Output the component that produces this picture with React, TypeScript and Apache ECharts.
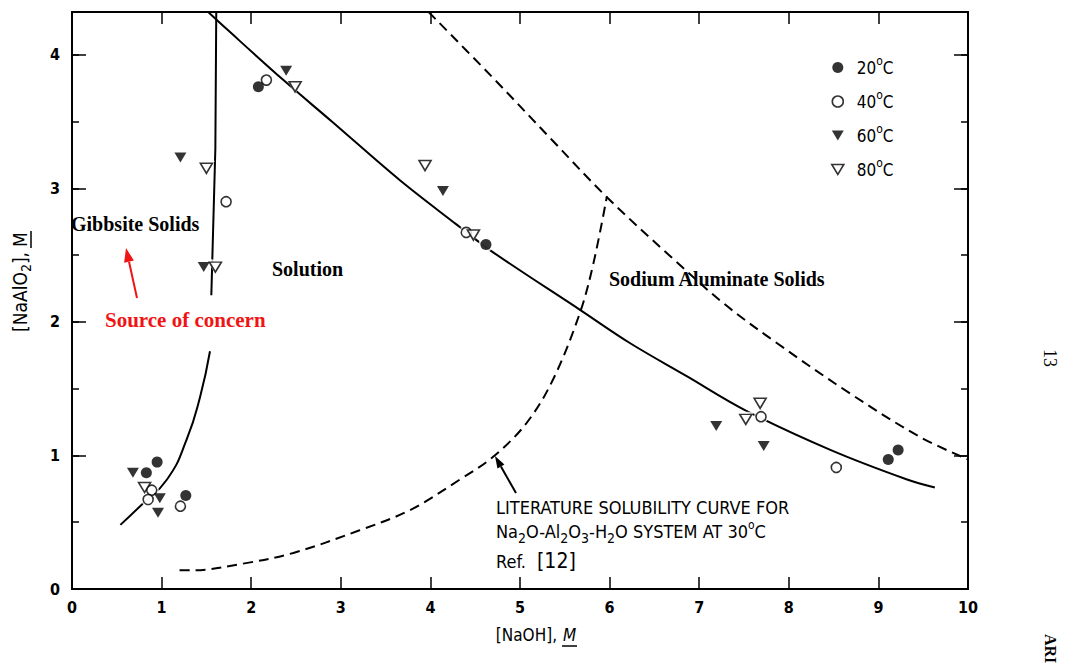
import React, { useEffect, useRef } from "react";
import * as echarts from "echarts";

// ---- axis ranges / tick labels ----
const xMin = 0;
const xMax = 10;
const yMin = 0;
const yMax = 4.32;

// ---- measured points [NaOH, NaAlO2] ----
const t20 = [
  [0.95, 0.95], [0.83, 0.87], [1.27, 0.7], [2.08, 3.76], [4.62, 2.58], [9.11, 0.97], [9.22, 1.04],
];
const t40 = [
  [0.89, 0.74], [0.85, 0.67], [1.21, 0.62], [1.72, 2.9], [2.17, 3.81], [4.4, 2.67], [7.69, 1.29], [8.53, 0.91],
];
const t60 = [
  [0.68, 0.87], [0.98, 0.68], [0.96, 0.57], [1.21, 3.23], [1.47, 2.41], [2.39, 3.88], [4.14, 2.98], [7.19, 1.22], [7.72, 1.07],
];
const t80 = [
  [0.81, 0.76], [1.5, 3.15], [1.6, 2.41], [2.49, 3.76], [3.94, 3.17], [4.48, 2.65], [7.52, 1.27], [7.68, 1.39],
];

// ---- curves ----
const solutionCurve = [
  [1.52, 4.32], [1.73, 4.19], [2.36, 3.81], [2.9, 3.5], [3.66, 3.06], [4.29, 2.73], [4.68, 2.53],
  [5.67, 2.09], [6.23, 1.84], [6.87, 1.59], [7.51, 1.34], [8.47, 1.04], [9.32, 0.82], [9.63, 0.76],
];
const aluminateBoundary = [
  [3.98, 4.32], [4.68, 3.84], [5.36, 3.36], [5.96, 2.94], [6.68, 2.49], [7.27, 2.14], [7.87, 1.84],
  [8.67, 1.47], [9.46, 1.14], [10, 0.97],
];
const literatureCurve = [
  [1.2, 0.14], [1.35, 0.14], [1.91, 0.19], [2.47, 0.27], [3.21, 0.44], [3.77, 0.59], [4.33, 0.82],
  [4.7, 0.99], [5.07, 1.24], [5.37, 1.57], [5.67, 2.07], [5.82, 2.44], [5.97, 2.94],
];
const gibbsiteVertical = [
  [1.61, 4.32], [1.6, 3.3], [1.555, 2.2],
];
const gibbsiteCurve = [
  [1.54, 1.78], [1.43, 1.44], [1.28, 1.12], [1.06, 0.82], [0.76, 0.62], [0.54, 0.48],
];

const legendNames = ["20°C", "40°C", "60°C", "80°C"];

const SANS = "'DejaVu Sans Condensed', 'DejaVu Sans', sans-serif";
const SERIF = "'Liberation Serif', 'DejaVu Serif', serif";
const TRI = "path://M0,0L12,0L6,10Z";

function textEl(text: string, x: number, y: number, font: string, fill = "#000", align = "left", extra: any = {}) {
  return {
    type: "text",
    x,
    y,
    z: 100,
    ...extra,
    style: {
      text,
      font,
      fill,
      align,
      verticalAlign: "middle",
      textAlign: align,
      textVerticalAlign: "middle",
      ...(extra.style || {}),
    },
  };
}

function arrow(tail: number[], tip: number[], headLen: number, halfW: number, color: string, width: number) {
  const dx = tip[0] - tail[0];
  const dy = tip[1] - tail[1];
  const len = Math.hypot(dx, dy);
  const ux = dx / len;
  const uy = dy / len;
  const bx = tip[0] - ux * headLen;
  const by = tip[1] - uy * headLen;
  const nx = -uy;
  const ny = ux;
  return [
    {
      type: "line",
      z: 100,
      shape: { x1: tail[0], y1: tail[1], x2: bx, y2: by },
      style: { stroke: color, lineWidth: width },
    },
    {
      type: "polygon",
      z: 100,
      shape: {
        points: [
          [tip[0], tip[1]],
          [bx + nx * halfW, by + ny * halfW],
          [bx - nx * halfW, by - ny * halfW],
        ],
      },
      style: { fill: color },
    },
  ];
}

export default function App() {
  const ref = useRef<HTMLDivElement>(null);

  useEffect(() => {
    if (!ref.current) return;
    const chart = echarts.init(ref.current, undefined, { renderer: "svg" });

    const axisLine = { show: true, onZero: false, lineStyle: { color: "#000", width: 2 } };
    const tick = (len: number) => ({
      show: true,
      inside: true,
      length: len,
      lineStyle: { color: "#000", width: 1.5 },
    });
    const labelStyle = { color: "#000", fontFamily: SANS, fontSize: 16, fontWeight: "bold" as const };

    const xBase = { type: "value", min: xMin, max: xMax, interval: 1, splitLine: { show: false }, axisLine };
    const yBase = { type: "value", min: yMin, max: yMax, splitLine: { show: false }, axisLine };

    const markerDefs = [
      { name: legendNames[0], data: t20, symbol: "circle", size: 11, halo: 15, fill: "#000" },
      { name: legendNames[1], data: t40, symbol: "circle", size: 10, halo: 14, fill: "#fff" },
      { name: legendNames[2], data: t60, symbol: TRI, size: [12, 10], halo: [17, 15], fill: "#000" },
      { name: legendNames[3], data: t80, symbol: TRI, size: [12, 10], halo: [17, 15], fill: "#fff" },
    ];

    const lineBase = {
      type: "line",
      symbol: "none",
      showSymbol: false,
      silent: true,
      z: 1,
      animation: false,
    };
    const solid = { color: "#000", width: 2 };
    const dashed = { color: "#000", width: 2, type: [10, 6] };

    const series: any[] = [
      { ...lineBase, name: "solution", data: solutionCurve, smooth: 0.35, lineStyle: solid },
      { ...lineBase, name: "aluminate", data: aluminateBoundary, smooth: 0.35, lineStyle: dashed },
      { ...lineBase, name: "literature", data: literatureCurve, smooth: 0.35, lineStyle: dashed },
      { ...lineBase, name: "gibbsiteV", data: gibbsiteVertical, smooth: false, lineStyle: solid },
      { ...lineBase, name: "gibbsiteC", data: gibbsiteCurve, smooth: 0.5, lineStyle: solid },
    ];
    markerDefs.forEach((m) => {
      series.push({
        type: "scatter",
        name: m.name + " halo",
        data: m.data,
        symbol: m.symbol,
        symbolSize: m.halo,
        itemStyle: { color: "#fff" },
        z: 2,
        silent: true,
      });
    });
    markerDefs.forEach((m) => {
      series.push({
        type: "scatter",
        name: m.name,
        data: m.data,
        symbol: m.symbol,
        symbolSize: m.size,
        itemStyle: { color: m.fill, borderColor: "#000", borderWidth: m.fill === "#fff" ? 1.6 : 0 },
        z: 3,
      });
    });

    const legendRich = {
      sp: { width: 8 },
      a: { fontFamily: SANS, fontSize: 17, color: "#000" },
      s: { fontFamily: SANS, fontSize: 12, color: "#000", padding: [0, 0, 13, 0] },
    };

    const graphic: any[] = [
      textEl("Gibbsite Solids", 71, 224, `bold 20px ${SERIF}`),
      textEl("Solution", 272, 269, `bold 20px ${SERIF}`),
      textEl("Sodium Aluminate Solids", 609, 279, `bold 20px ${SERIF}`),
      textEl("Source of concern", 105, 320, `bold 21px ${SERIF}`, "#f01414"),
      ...arrow([137, 298], [126, 248], 14, 5, "#f01414", 2),
      ...arrow([516, 493], [495, 456], 12, 4, "#000", 2),
      textEl("LITERATURE SOLUBILITY CURVE FOR", 496, 507, `18px ${SANS}`),
      {
        type: "text",
        x: 496,
        y: 531,
        z: 100,
        style: {
          text: "Na{b|2}O-Al{b|2}O{b|3}-H{b|2}O SYSTEM AT 30{p|o}C",
          font: `18px ${SANS}`,
          fill: "#000",
          align: "left",
          verticalAlign: "middle",
          textAlign: "left",
          textVerticalAlign: "middle",
          rich: {
            b: { fontFamily: SANS, fontSize: 14, color: "#000", padding: [13, 0, 0, 0] },
            p: { fontFamily: SANS, fontSize: 12, color: "#000", padding: [0, 0, 13, 0] },
          },
        },
      },
      textEl("Ref.", 496, 561, `18px ${SANS}`),
      textEl("[12]", 537, 561, `21px ${SANS}`),
      // x axis title
      textEl("[NaOH],", 557, 635, `17px ${SANS}`, "#000", "right"),
      textEl("M", 563, 635, `italic 17px ${SANS}`),
      { type: "line", z: 100, shape: { x1: 562, y1: 646, x2: 577, y2: 646 }, style: { stroke: "#000", lineWidth: 1.5 } },
      // y axis title
      {
        type: "group",
        x: 20,
        y: 250,
        rotation: Math.PI / 2,
        z: 100,
        children: [
          {
            type: "text",
            x: -2,
            y: 0,
            style: {
              text: "[NaAlO{b|2}],",
              font: `19px ${SANS}`,
              fill: "#000",
              align: "right",
              verticalAlign: "middle",
              textAlign: "right",
              textVerticalAlign: "middle",
              rich: { b: { fontFamily: SANS, fontSize: 14, color: "#000", padding: [12, 0, 0, 0] } },
            },
          },
          {
            type: "text",
            x: 3,
            y: 0,
            style: {
              text: "M",
              font: `19px ${SANS}`,
              fill: "#000",
              align: "left",
              verticalAlign: "middle",
              textAlign: "left",
              textVerticalAlign: "middle",
            },
          },
          { type: "line", shape: { x1: 2, y1: 11, x2: 19, y2: 11 }, style: { stroke: "#000", lineWidth: 1.5 } },
        ],
      },
      // page margin marks
      textEl("13", 1050, 358, `18px ${SERIF}`, "#000", "center", { rotation: -Math.PI / 2 }),
      textEl("ARI", 1050, 634, `bold 16px ${SERIF}`, "#000", "left", { rotation: -Math.PI / 2 }),
    ];

    chart.setOption({
      animation: false,
      backgroundColor: "#fff",
      grid: { left: 72, right: 97, top: 12, bottom: 74, containLabel: false },
      xAxis: [
        {
          ...xBase,
          position: "bottom",
          axisTick: tick(12),
          axisLabel: { ...labelStyle, margin: 10 },
        },
        {
          ...xBase,
          position: "top",
          axisTick: tick(12),
          axisLabel: { show: false },
        },
      ],
      yAxis: [
        {
          ...yBase,
          position: "left",
          interval: 1,
          axisTick: tick(14),
          axisLabel: {
            ...labelStyle,
            margin: 12,
            formatter: (v: number) => (Math.abs(v - Math.round(v)) < 1e-6 ? String(Math.round(v)) : ""),
          },
        },
        { ...yBase, position: "left", interval: 0.5, axisTick: tick(7), axisLabel: { show: false } },
        { ...yBase, position: "right", interval: 1, axisTick: tick(14), axisLabel: { show: false } },
        { ...yBase, position: "right", interval: 0.5, axisTick: tick(7), axisLabel: { show: false } },
      ],
      legend: {
        data: markerDefs.map((m) => ({
          name: m.name,
          icon: m.symbol,
          itemStyle: { color: m.fill, borderColor: "#000", borderWidth: m.fill === "#fff" ? 1.6 : 0 },
        })),
        orient: "vertical",
        left: 826,
        top: 50,
        itemWidth: 12,
        itemHeight: 11,
        itemGap: 13,
        selectedMode: false,
        formatter: (name: string) => `{sp|}{a|${name.replace("°C", "")}}{s|o}{a|C}`,
        textStyle: { rich: legendRich },
      },
      series,
      graphic,
    });

    return () => chart.dispose();
  }, []);

  return (
    <div
      ref={ref}
      style={{ position: "fixed", left: 0, top: 0, width: 1065, height: 663, background: "#fff" }}
    />
  );
}
